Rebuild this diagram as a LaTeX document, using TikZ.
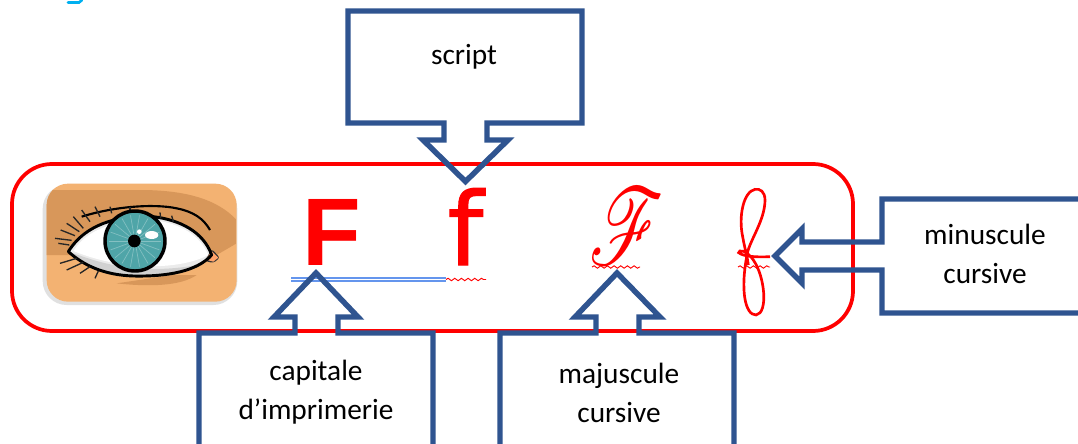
\documentclass[tikz,border=0pt]{standalone}
\usepackage{fontspec}
\usepackage{mathrsfs}
\setmainfont{Carlito}
\newfontfamily\capfont{Liberation Sans}
\newfontfamily\lowfont[FakeBold=1]{DejaVu Sans}
\usetikzlibrary{decorations.pathmorphing}
\definecolor{calloutblue}{HTML}{2F5490}
\definecolor{linkblue}{HTML}{6495ED}
\definecolor{titlecyan}{HTML}{00B0F0}
\definecolor{skinlight}{HTML}{F3B272}
\definecolor{skindark}{HTML}{D8975A}
\definecolor{iristeal}{HTML}{4FA5A8}
\tikzset{
	x=0.75pt,
	y=-0.75pt,
	callout/.style = {draw=calloutblue, line width=4.1pt},
	frame/.style = {draw=red, line width=2.8pt, rounded corners=30pt},
	label/.style = {inner sep=0pt, align=center, font=\fontsize{22}{29}\selectfont, text=black},
	letter/.style = {inner sep=0pt, anchor=base, text=red},
	squiggle/.style = {draw=red, line width=0.7pt, decorate, decoration={snake, amplitude=0.9pt, segment length=5pt}}
}

\begin{document}
\begin{tikzpicture}
	\clip (0,0) rectangle (1078,443);
	\fill [white] (0,0) rectangle (1078,443);
	\draw [titlecyan, line width=2pt, line cap=round] (68,2.5) -- (79,2.5) -- (82,0);

	\path [frame] (12,164) rectangle (853,331);

	% eye picture, in the 3x coordinates of its crop
	\begin{scope}[shift={(40,175)}, x=0.25pt, y=-0.25pt]
		\fill [black!12, rounded corners=18pt] (8,30) rectangle (592,390);
		\fill [skinlight, rounded corners=16pt] (20,26) rectangle (590,380);
		\begin{scope}
			\clip [rounded corners=16pt] (20,26) rectangle (590,380);
			\fill [skindark] (20,45) -- (300,45) .. controls (430,45) and (530,70) .. (590,135) -- (590,205) -- (530,240) -- (85,240) -- (20,240) -- cycle;
			\fill [skindark] (230,325) .. controls (320,335) and (420,335) .. (470,300) -- (400,300) -- cycle;
		\end{scope}
		\fill [white!92!black] (85,230) .. controls (140,140) and (250,120) .. (340,125) .. controls (420,135) and (490,170) .. (515,240) .. controls (470,290) and (380,305) .. (280,303) .. controls (190,300) and (130,270) .. (85,230) -- cycle;
		\fill [black!18] (85,230) .. controls (130,270) and (190,300) .. (280,303) .. controls (360,305) and (430,295) .. (480,268) .. controls (400,285) and (320,285) .. (250,275) .. controls (180,265) and (130,245) .. (85,230) -- cycle;
		\fill [white] (100,228) .. controls (150,150) and (250,135) .. (340,135) .. controls (420,145) and (480,180) .. (505,240) .. controls (440,275) and (330,280) .. (250,268) .. controls (180,258) and (130,240) .. (100,228) -- cycle;
		\fill [black!80, rounded corners=2pt] (515,222) -- (540,248) -- (520,264) -- (495,258) -- cycle;
		\fill [orange!45!pink] (515,228) -- (535,248) -- (520,260) -- (498,254) -- cycle;
		\draw [black, line width=2.2pt, line join=round] (85,230) .. controls (140,140) and (250,120) .. (340,125) .. controls (420,135) and (490,170) .. (515,240) .. controls (470,290) and (380,305) .. (280,303) .. controls (190,300) and (130,270) .. (85,230) -- cycle;
		\draw [black, line width=1.6pt] (125,125) .. controls (220,95) and (340,85) .. (410,100) .. controls (460,110) and (490,130) .. (510,165);
		\foreach \ax/\ay/\bx/\by in {130/160/100/125, 118/170/80/145, 105/182/62/165, 95/196/45/190, 88/210/55/205, 150/140/125/105, 180/125/165/95, 215/115/210/95, 270/110/270/95, 310/108/312/125, 360/112/362/130, 395/122/400/140, 110/250/60/265, 130/262/80/285, 150/275/120/295, 175/288/165/310}
			\draw [black!85, line width=1pt] (\ax,\ay) -- (\bx,\by);
		\fill [iristeal] (285,198) circle [radius=90];
		\foreach \ang in {0,20,...,340}
			\draw [iristeal!70!white, line width=0.5pt] (285,198) -- +(\ang:78);
		\draw [black, line width=2.6pt] (285,198) circle [radius=90];
		\fill [black] (283,198) circle [radius=19];
		\fill [white] (335,180) ellipse [x radius=20, y radius=12];
		\fill [white] (298,170) circle [radius=7];
	\end{scope}

	\node (capF) [letter, font=\capfont\bfseries\fontsize{72}{72}\selectfont] at (332,265) {F};
	\node (lowf) [letter, font=\lowfont\fontsize{76}{76}\selectfont] at (465.5,265) {f};
	\node (scriptF) [letter] at (627,264) {\resizebox{56pt}{57pt}{$\mathscr{F}$}};

	% looped f, no font has it
	\begin{scope}[shift={(520,150)}, x=0.25pt, y=-0.25pt]
		\draw [red, line width=2pt] (750,320) .. controls (710,322) and (670,320) .. (656,308) .. controls (655,298) and (680,300) .. (700,330) .. controls (735,380) and (745,490) .. (708,495) .. controls (675,495) and (660,420) .. (682,310) .. controls (690,270) and (735,210) .. (735,150) .. controls (735,125) and (720,115) .. (705,118) .. controls (670,125) and (655,200) .. (668,260) .. controls (675,300) and (680,310) .. (685,345);
	\end{scope}

	\draw [linkblue, line width=0.8pt] (291,278) -- (446,278);
	\draw [linkblue, line width=0.8pt] (291,281) -- (446,281);
	\path [squiggle] (446,279.5) -- (486,279.5);
	\path [squiggle] (592,267) -- (640,267);
	\path [squiggle] (738,267) -- (770,267);

	\draw [callout] (348,11) -- (582,11) -- (582,123) -- (487,123) -- (487,140) -- (508,140) -- (465.5,181.5) -- (423,140) -- (444,140) -- (444,123) -- (348,123) -- cycle;
	\draw [callout] (199,450) -- (199,333) -- (295,333) -- (295,317) -- (274,317) -- (316,273) -- (358,317) -- (338,317) -- (338,333) -- (433,333) -- (433,450);
	\draw [callout] (500,450) -- (500,333) -- (596,333) -- (596,317) -- (575,317) -- (617,273) -- (660,317) -- (639,317) -- (639,333) -- (734,333) -- (734,450);
	\draw [callout] (1090,199) -- (882,199) -- (882,242) -- (802,242) -- (802,229) -- (775,256) -- (802,283) -- (802,270) -- (882,270) -- (882,313) -- (1090,313);

	\node (script) [label] at (464,57) {script};
	\node (capitale) [label] at (316,392) {capitale\\d’imprimerie};
	\node (majuscule) [label] at (619,393) {majuscule\\cursive};
	\node (minuscule) [label] at (985,254) {minuscule\\cursive};
\end{tikzpicture}
\end{document}
